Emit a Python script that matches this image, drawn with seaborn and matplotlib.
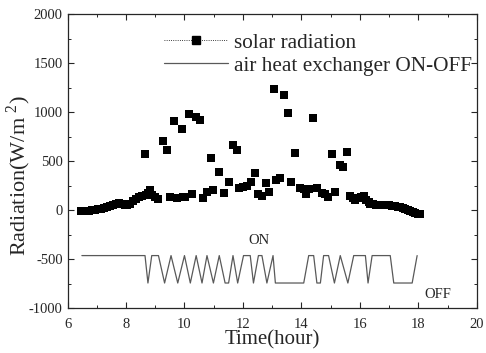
import numpy as np
import pandas as pd
import matplotlib
matplotlib.use("Agg")
import matplotlib.pyplot as plt
from matplotlib.lines import Line2D
from matplotlib.ticker import MultipleLocator
import seaborn as sns

# solar radiation readings (hour, W/m2)
hours = [6.45, 6.55, 6.65, 6.75, 6.85, 6.95, 7.05, 7.15, 7.25, 7.35, 7.45, 7.55, 7.65,
         7.75, 7.85, 7.95, 8.05, 8.15, 8.25, 8.35, 8.45, 8.55, 8.65, 8.68, 8.75, 8.82,
         8.9, 9.0, 9.1, 9.28, 9.4, 9.51, 9.65, 9.75, 9.91, 9.95, 10.02, 10.14, 10.25,
         10.39, 10.54, 10.65, 10.77, 10.91, 10.99, 11.17, 11.34, 11.53, 11.66, 11.79,
         11.88, 12.0, 12.14, 12.27, 12.40, 12.53, 12.65, 12.79, 12.88, 13.05, 13.14,
         13.28, 13.41, 13.54, 13.65, 13.79, 13.96, 14.10, 14.17, 14.25, 14.40, 14.53,
         14.70, 14.80, 14.91, 15.05, 15.16, 15.31, 15.42, 15.56, 15.67, 15.76, 15.85,
         15.95, 16.05, 16.13, 16.22, 16.30, 16.36, 16.45, 16.55, 16.62, 16.70, 16.80,
         16.90, 17.0, 17.1, 17.2, 17.3, 17.39, 17.48, 17.56, 17.65, 17.73, 17.82, 17.9,
         18.0, 18.05]
radiation = [-8, -8, -6, -5, -2, 2, 8, 15, 25, 32, 40, 50, 60,
             70, 62, 55, 50, 60, 95, 115, 135, 140, 575, 150, 170, 205,
             150, 130, 112, 703, 609, 129, 906, 125, 829, 130, 129, 981, 162,
             951, 924, 119, 180, 535, 200, 389, 173, 287, 660, 609,
             220, 240, 247, 287, 383, 162, 139, 271, 186, 1235, 304,
             332, 1177, 992, 287, 579, 230, 215, 162, 213, 941, 230,
             173, 160, 129, 568, 180, 460, 440, 596, 145, 120, 105,
             125, 135, 139, 100, 80, 61, 58, 55, 52, 51, 55,
             50, 51, 45, 40, 36, 34, 25, 15, 5, -7, -18, -28,
             -38, -42]

# air heat exchanger switching (hour, 1 = ON, 0 = OFF)
switch_time = [6.49, 8.65, 8.75, 8.88, 9.11, 9.32, 9.54, 9.77, 10.00, 10.20, 10.40,
               10.60, 10.77, 10.99, 11.19, 11.39, 11.51, 11.66, 11.82, 12.02, 12.25,
               12.36, 12.53, 12.65, 12.82, 13.03, 13.11, 14.08, 14.25, 14.42, 14.53,
               14.65, 14.76, 14.93, 15.13, 15.33, 15.59, 15.79, 16.19, 16.28, 16.42,
               17.04, 17.16, 17.79, 17.96]
switch_state = [1, 1, 0, 1, 1, 0, 1, 0, 1, 0, 1,
                0, 1, 0, 1, 0, 0, 1, 0, 1, 1,
                0, 1, 1, 0, 1, 0, 0, 1, 1, 0,
                0, 1, 1, 0, 1, 0, 1, 1, 0, 1,
                1, 0, 0, 1]
on_level = -465
off_level = -745

sun = pd.DataFrame({"hour": hours, "rad": radiation})
fan = pd.DataFrame({"hour": switch_time,
                    "level": [on_level if s else off_level for s in switch_state]})

sns.set_style("ticks")
plt.rcParams["font.family"] = ["Liberation Serif", "DejaVu Serif"]
plt.rcParams["mathtext.fontset"] = "custom"
plt.rcParams["mathtext.rm"] = "Liberation Serif"
plt.rcParams["axes.unicode_minus"] = False

fig = plt.figure(figsize=(4.86, 3.53), dpi=100)
ax = fig.add_axes([0.139, 0.1275, 0.842, 0.8325])

sns.scatterplot(data=sun, x="hour", y="rad", marker="s", s=26, color="black",
                edgecolor="black", linewidth=0, ax=ax, legend=False)
sns.lineplot(data=fan, x="hour", y="level", sort=False, estimator=None,
             color="0.35", linewidth=0.9, ax=ax, legend=False)

ax.set_xlim(6, 20)
ax.set_ylim(-1000, 2000)
ax.xaxis.set_major_locator(MultipleLocator(2))
ax.xaxis.set_minor_locator(MultipleLocator(1))
ax.yaxis.set_major_locator(MultipleLocator(500))
ax.yaxis.set_minor_locator(MultipleLocator(250))
ax.tick_params(which="both", direction="in", top=True, right=True, labelsize=10.5)
ax.tick_params(which="major", length=4, width=0.8)
ax.tick_params(which="minor", length=2.5, width=0.7)
ax.tick_params(axis="x", which="major", pad=7)
for sp in ax.spines.values():
    sp.set_linewidth(0.9)

ax.set_xlabel("Time(hour)", fontsize=15, labelpad=0)
ax.set_ylabel("Radiation(W/m$^{\\ 2}$)", fontsize=16)
ax.yaxis.set_label_coords(-0.084, 0.45)

ax.text(12.56, -315, "ON", fontsize=10.5, ha="center", va="center")
ax.text(18.66, -860, "OFF", fontsize=10.5, ha="center", va="center")

handles = [Line2D([], [], color="black", linestyle=":", linewidth=0.6,
                  marker="s", markersize=5.5),
           Line2D([], [], color="0.35", linewidth=0.9)]
ax.legend(handles, ["solar radiation", "air heat exchanger ON-OFF"],
          loc="upper left", bbox_to_anchor=(0.215, 0.965), frameon=False,
          fontsize=15.3, handlelength=3.0, handletextpad=0.3, labelspacing=0.15,
          borderaxespad=0)

fig.savefig("out.png", dpi=100)
